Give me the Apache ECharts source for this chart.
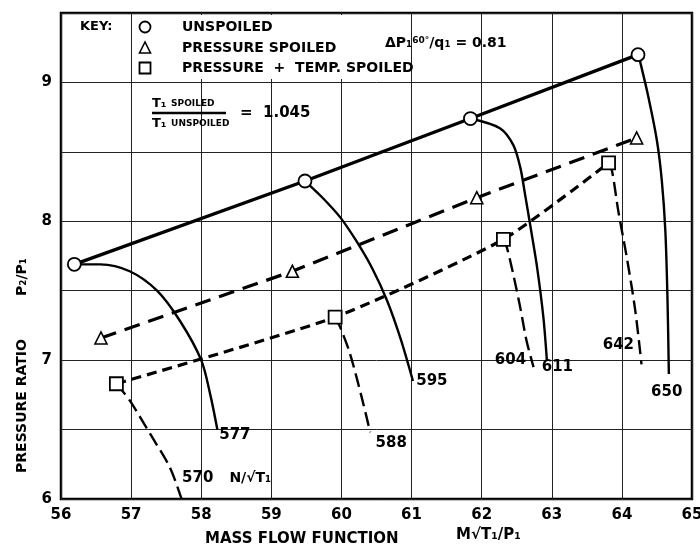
<!DOCTYPE html>
<html>
<head>
<meta charset="utf-8">
<script src="https://cdn.jsdelivr.net/npm/echarts@6/dist/echarts.min.js"></script>
<style>
    html, body { margin: 0; padding: 0; background: #fff; }
    #chart1 { width: 700px; height: 555px; }
</style>
</head>
<body>
<div id="chart1"></div>
<script>
// operating points
var unspoiledX = [56.19, 59.48, 61.84, 64.23];
var unspoiledY = [7.69, 8.29, 8.74, 9.20];
var pressX = [56.57, 59.30, 61.93, 64.21];
var pressY = [7.16, 7.64, 8.17, 8.60];
var tempX = [56.79, 59.91, 62.31, 63.81];
var tempY = [6.83, 7.31, 7.87, 8.42];

// constant speed lines (N/sqrt T1)
var speed577 = [[56.19, 7.69], [56.56, 7.69], [56.98, 7.64], [57.37, 7.5], [57.70, 7.28], [58.0, 7.0], [58.13, 6.75], [58.23, 6.5]];
var speed570 = [[56.79, 6.83], [56.98, 6.71], [57.27, 6.47], [57.55, 6.23], [57.72, 6.0]];
var speed588 = [[59.91, 7.31], [59.98, 7.24], [60.12, 7.05], [60.29, 6.73], [60.41, 6.48]];
var speed595 = [[59.48, 8.29], [59.72, 8.175], [59.98, 8.03], [60.21, 7.86], [60.44, 7.66], [60.65, 7.43], [60.84, 7.16], [61.02, 6.85]];
var speed604 = [[62.31, 7.87], [62.36, 7.81], [62.45, 7.62], [62.55, 7.38], [62.64, 7.14], [62.74, 6.95]];
var speed611 = [[61.84, 8.74], [62.26, 8.67], [62.45, 8.55], [62.55, 8.39], [62.62, 8.19], [62.69, 7.98], [62.79, 7.67], [62.88, 7.31], [62.93, 7.0]];
var speed642 = [[63.81, 8.42], [63.86, 8.36], [63.95, 8.07], [64.07, 7.74], [64.19, 7.36], [64.28, 6.97]];
var speed650 = [[64.23, 9.2], [64.26, 9.15], [64.38, 8.89], [64.50, 8.58], [64.57, 8.29], [64.62, 7.93], [64.65, 7.45], [64.67, 6.9]];

// speed line labels
var speedLabels = ['577', '570', '588', '595', '604', '611', '642', '650'];
var labelX = [58.48, 57.95, 60.71, 61.29, 62.41, 63.08, 63.95, 64.64];
var labelY = [6.46, 6.15, 6.40, 6.85, 7.0, 6.95, 7.11, 6.77];

var font = 'DejaVu Sans';

function zip(xs, ys) {
    return xs.map(function (x, i) { return [x, ys[i]]; });
}

function speedLine(data, dashed) {
    return {
        type: 'line',
        data: data,
        smooth: 0.3,
        symbol: 'none',
        silent: true,
        z: 2,
        lineStyle: {
            color: '#000',
            width: 2.4,
            type: dashed ? [14, 6] : 'solid'
        }
    };
}

function textLabels(data, size) {
    return {
        type: 'scatter',
        symbolSize: 0,
        silent: true,
        z: 6,
        data: data,
        itemStyle: { opacity: 1 },
        label: {
            show: true,
            position: 'inside',
            formatter: function (p) { return p.value[2]; },
            color: '#000',
            opacity: 1,
            textBorderWidth: 0,
            fontFamily: font,
            fontWeight: 'bold',
            fontSize: size
        }
    };
}

function drawChart1() {
    var dom1 = document.getElementById('chart1');
    var myChart1 = echarts.init(dom1);
    var option = {
        animation: false,
        backgroundColor: '#fff',
        grid: {
            left: 61, right: 8, top: 13, bottom: 56,
            show: true,
            borderColor: '#000',
            borderWidth: 2.5,
            outerBoundsMode: 'none'
        },
        xAxis: {
            type: 'value',
            min: 56, max: 65, interval: 1,
            axisLine: { show: false },
            axisTick: { show: false },
            splitLine: { show: true, lineStyle: { color: '#222', width: 1 } },
            axisLabel: {
                color: '#000', fontFamily: font, fontWeight: 'bold', fontSize: 15, margin: 9
            }
        },
        yAxis: {
            type: 'value',
            min: 6, max: 9.5, interval: 0.5,
            axisLine: { show: false },
            axisTick: { show: false },
            splitLine: { show: true, lineStyle: { color: '#222', width: 1 } },
            axisLabel: {
                color: '#000', fontFamily: font, fontWeight: 'bold', fontSize: 15, margin: 9,
                formatter: function (v) { return v % 1 === 0 ? String(v) : ''; }
            }
        },
        graphic: [
            // key area (hides grid lines behind the key text)
            { type: 'rect', left: 134, top: 15, shape: { width: 275, height: 64 }, style: { fill: '#fff' }, z: 5 },
            { type: 'text', left: 80, top: 20, style: { text: 'KEY:', font: 'bold 13px ' + font, fill: '#000' }, z: 6 },
            { type: 'circle', shape: { cx: 145, cy: 27, r: 5.5 }, style: { fill: '#fff', stroke: '#000', lineWidth: 1.8 }, z: 6 },
            { type: 'polygon', shape: { points: [[145, 42], [139.5, 53], [150.5, 53]] }, style: { fill: '#fff', stroke: '#000', lineWidth: 1.6 }, z: 6 },
            { type: 'rect', shape: { x: 139.5, y: 62.5, width: 11, height: 11 }, style: { fill: '#fff', stroke: '#000', lineWidth: 1.8 }, z: 6 },
            { type: 'text', left: 182, top: 20, style: { text: 'UNSPOILED', font: 'bold 14px ' + font, fill: '#000' }, z: 6 },
            { type: 'text', left: 182, top: 41, style: { text: 'PRESSURE SPOILED', font: 'bold 14px ' + font, fill: '#000' }, z: 6 },
            { type: 'text', left: 182, top: 61, style: { text: 'PRESSURE  +  TEMP. SPOILED', font: 'bold 14px ' + font, fill: '#000' }, z: 6 },
            {
                type: 'text', left: 385, top: 36, z: 6,
                style: {
                    text: '{a|ΔP₁}{s|60°}{a|/q₁ = 0.81}',
                    fill: '#000',
                    rich: {
                        a: { fontFamily: font, fontWeight: 'bold', fontSize: 14, verticalAlign: 'bottom' },
                        s: { fontFamily: font, fontWeight: 'bold', fontSize: 9, verticalAlign: 'top' }
                    }
                }
            },
            // temperature ratio note
            {
                type: 'text', left: 152, top: 97, z: 6,
                style: { text: '{a|T₁ }{b|SPOILED}', rich: { a: { fontFamily: font, fontWeight: 'bold', fontSize: 13 }, b: { fontFamily: font, fontWeight: 'bold', fontSize: 9 } } }
            },
            { type: 'line', shape: { x1: 152, y1: 113, x2: 226, y2: 113 }, style: { stroke: '#000', lineWidth: 2.5 }, z: 6 },
            {
                type: 'text', left: 152, top: 117, z: 6,
                style: { text: '{a|T₁ }{b|UNSPOILED}', rich: { a: { fontFamily: font, fontWeight: 'bold', fontSize: 13 }, b: { fontFamily: font, fontWeight: 'bold', fontSize: 9 } } }
            },
            { type: 'text', left: 240, top: 106, style: { text: '=  1.045', font: 'bold 15px ' + font, fill: '#000' }, z: 6 },
            // axis names
            {
                type: 'text', x: 22, y: 406, rotation: Math.PI / 2, z: 6,
                style: { text: 'PRESSURE RATIO', font: 'bold 14px ' + font, fill: '#000', align: 'center', verticalAlign: 'middle' }
            },
            {
                type: 'text', x: 22, y: 277, rotation: Math.PI / 2, z: 6,
                style: { text: 'P₂/P₁', font: 'bold 14px ' + font, fill: '#000', align: 'center', verticalAlign: 'middle' }
            },
            { type: 'text', left: 205, top: 532, style: { text: 'MASS FLOW FUNCTION', font: 'bold 15px ' + font, fill: '#000' }, z: 6 },
            { type: 'text', left: 456, top: 528, style: { text: 'M√T₁/P₁', font: 'bold 15px ' + font, fill: '#000' }, z: 6 }
        ],
        series: [
            speedLine(speed577, false),
            speedLine(speed570, true),
            speedLine(speed588, true),
            speedLine(speed595, false),
            speedLine(speed604, true),
            speedLine(speed611, false),
            speedLine(speed642, true),
            speedLine(speed650, false),
            {
                name: 'PRESSURE + TEMP. SPOILED',
                type: 'line',
                data: zip(tempX, tempY),
                smooth: 0.2,
                symbol: 'rect',
                symbolSize: 13,
                z: 4,
                itemStyle: { color: '#fff', borderColor: '#000', borderWidth: 1.8 },
                lineStyle: { color: '#000', width: 3.2, type: [10, 6] }
            },
            {
                name: 'PRESSURE SPOILED',
                type: 'line',
                data: zip(pressX, pressY),
                symbol: 'triangle',
                symbolSize: 12,
                z: 4,
                itemStyle: { color: '#fff', borderColor: '#000', borderWidth: 1.6 },
                lineStyle: { color: '#000', width: 3.2, type: [16, 9] }
            },
            {
                name: 'UNSPOILED',
                type: 'line',
                data: zip(unspoiledX, unspoiledY),
                symbol: 'circle',
                symbolSize: 13,
                z: 4,
                itemStyle: { color: '#fff', borderColor: '#000', borderWidth: 1.8 },
                lineStyle: { color: '#000', width: 3.4 }
            },
            textLabels(speedLabels.map(function (s, i) { return [labelX[i], labelY[i], s]; }), 15),
            textLabels([[58.70, 6.15, 'N/√T₁']], 14)
        ]
    };
    myChart1.setOption(option, true);
    window.onresize = myChart1.resize;
}

drawChart1();
</script>
</body>
</html>
